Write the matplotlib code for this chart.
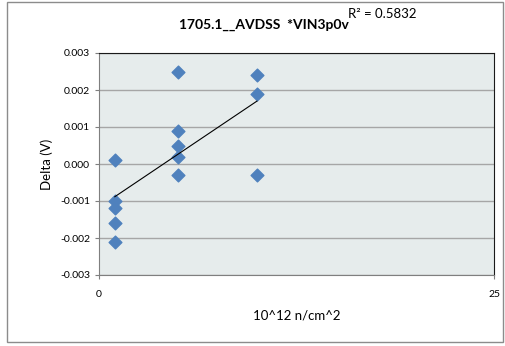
import numpy as np
import matplotlib
matplotlib.use("Agg")
import matplotlib.pyplot as plt
from matplotlib.patches import Rectangle
from matplotlib.ticker import FormatStrFormatter

plt.rcParams['font.family'] = ['Lato', 'DejaVu Sans']

# datos
fluence = [1, 1, 1, 1, 1, 5, 5, 5, 5, 5, 10, 10, 10]
delta = [0.0001, -0.0010, -0.0012, -0.0016, -0.0021,
         0.0025, 0.0009, 0.0005, 0.0002, -0.0003,
         0.0024, 0.0019, -0.0003]
title = "1705.1__AVDSS  *VIN3p0v"
r2_label = "R² = 0.5832"

fig = plt.figure(figsize=(5.05, 3.46), dpi=100)
fig.patches.append(Rectangle((7 / 505, 4 / 346), 496 / 505, 340 / 346,
                             transform=fig.transFigure, fill=False,
                             edgecolor="#8c8c8c", linewidth=1))

ax = fig.add_axes([99 / 505, 1 - 275 / 346, 395 / 505, 222 / 346])
ax.set_facecolor("#e6ecec")

ax.scatter(fluence, delta, marker="D", s=42, color="#4f81bd",
           edgecolor="#4f81bd", zorder=3)

# línea de tendencia lineal
x = np.array(fluence, dtype=float)
y = np.array(delta)
m, b = np.polyfit(x, y, 1)
xs = np.array([x.min(), x.max()])
ax.plot(xs, m * xs + b, color="black", linewidth=0.8, zorder=4)

ax.set_xlim(0, 25)
ax.set_ylim(-0.003, 0.003)
ax.set_xticks([0, 25])
ax.set_yticks(np.arange(-0.003, 0.0031, 0.001))
ax.yaxis.set_major_formatter(FormatStrFormatter("%.3f"))
ax.grid(axis="y", color="#a6a6a6", linewidth=1)
ax.set_axisbelow(True)
ax.tick_params(labelsize=7.5, length=3, color="#7f7f7f")
ax.tick_params(axis="x", pad=8)
for s in ax.spines.values():
    s.set_color("#1a1a1a")
ax.spines["left"].set_color("#7f7f7f")
ax.spines["bottom"].set_color("#7f7f7f")

ax.set_ylabel("Delta (V)", fontsize=9.5, labelpad=5)
ax.set_xlabel("10^12 n/cm^2", fontsize=9.5, labelpad=7)
fig.text(264 / 505, 1 - 25 / 346, title, ha="center", va="center",
         fontsize=10, fontweight="bold")
fig.text(382 / 505, 1 - 14 / 346, r2_label, ha="center", va="center",
         fontsize=9.5)

fig.savefig("out.png", dpi=100)
